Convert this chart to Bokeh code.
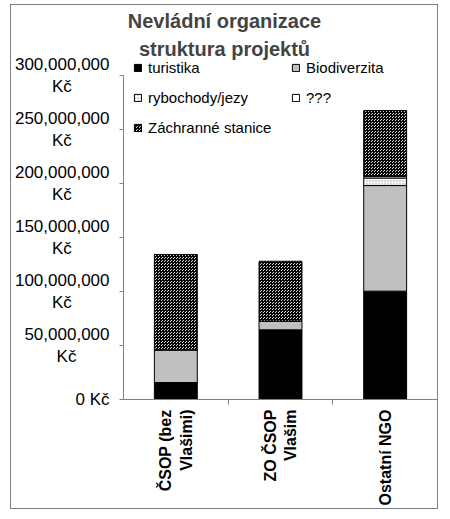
import math
from bokeh.plotting import figure
from bokeh.models import FixedTicker, ColumnDataSource, Label
from bokeh.embed import file_html
from bokeh.resources import INLINE

categories = ["ČSOP (bez\nVlašimi)", "ZO ČSOP\nVlašim", "Ostatní NGO"]
series = ["turistika", "Biodiverzita", "rybochody/jezy", "???", "Záchranné stanice"]
turistika = [15.7e6, 64.5e6, 100.3e6]
biodiverzita = [30.3e6, 8.0e6, 97.8e6]
rybochody = [0.0, 0.0, 7.0e6]
otazniky = [0.0, 0.0, 1.5e6]
zachranne = [88.3e6, 55.5e6, 61.0e6]
y_ticks = [0, 50_000_000, 100_000_000, 150_000_000, 200_000_000, 250_000_000, 300_000_000]
title_text = "Nevládní organizace\nstruktura projektů"

FONT = "Liberation Sans"
FRAME_W, FRAME_H, AXIS_PX = 314, 390, 324

pos = [i + 0.5 for i in range(len(categories))]
bounds = [float(i) for i in range(1, len(categories))]
y_end = y_ticks[-1] * FRAME_H / AXIS_PX

src = ColumnDataSource(dict(x=pos, s0=turistika, s1=biodiverzita, s2=rybochody, s3=otazniky, s4=zachranne))

p = figure(frame_width=FRAME_W, frame_height=FRAME_H, output_backend="svg", toolbar_location=None,
           x_range=(0, len(categories)), y_range=(0, y_end),
           min_border_left=110, min_border_right=0, min_border_top=4, min_border_bottom=10)
p.margin = (4, 0, 0, 10)
p.styles = {"border": "1px solid #808080"}
p.grid.visible = False
p.outline_line_color = None
p.title = None

p.vbar_stack(["s0", "s1", "s2", "s3", "s4"], x="x", width=0.41, source=src,
             fill_color=["black", "#c0c0c0", "white", "white", "#d8d8d8"],
             hatch_pattern=[" ", " ", "dot", " ", "criss_cross"],
             hatch_color=["black", "black", "#909090", "black", "black"],
             hatch_scale=[3, 3, 3, 3, 3],
             hatch_weight=[1, 1, 1, 1, 1],
             line_color="black", line_width=1,
             legend_label=series)


def ylab(v):
    if v == 0:
        return "0 Kč"
    s = f"{v:,}"
    digits = sum(ch.isdigit() for ch in s)
    commas = s.count(",")
    em = digits * 0.556 + commas * 0.278 - 1.167
    pad = "\u00a0" * round(em / 2 / 0.278)
    return s + "\nKč" + pad


yax = p.yaxis[0]
yax.ticker = FixedTicker(ticks=y_ticks, minor_ticks=[])
yax.bounds = (0, y_ticks[-1])
yax.major_label_overrides = {v: ylab(v) for v in y_ticks}
yax.major_label_text_font = FONT
yax.major_label_text_font_size = "17px"
yax.major_label_text_color = "black"
yax.axis_line_color = "#808080"
yax.major_tick_line_color = "#808080"
yax.major_tick_out = 4
yax.major_tick_in = 0
yax.major_label_standoff = 10

xax = p.xaxis[0]
xax.ticker = FixedTicker(ticks=pos, minor_ticks=bounds)
xax.major_label_overrides = {x: c for x, c in zip(pos, categories)}
xax.major_label_orientation = math.pi / 2
xax.major_label_text_font = FONT
xax.major_label_text_font_size = "16px"
xax.major_label_text_font_style = "bold"
xax.major_label_text_color = "black"
xax.axis_line_color = "#808080"
xax.major_tick_out = 0
xax.major_tick_in = 0
xax.minor_tick_line_color = "#808080"
xax.minor_tick_out = 5
xax.minor_tick_in = 0
xax.major_label_standoff = 5

title = Label(x=101, y=390, x_units="screen", y_units="screen", text=title_text,
              text_align="center", text_baseline="top", text_font=FONT,
              text_font_size="20px", text_font_style="bold", text_line_height=1.3)
p.add_layout(title)

lg = p.legend[0]
lg.orientation = "horizontal"
lg.ncols = 2
lg.location = (10, 262)
lg.border_line_color = None
lg.background_fill_alpha = 0
lg.padding = 0
lg.margin = 0
lg.glyph_width = 9
lg.glyph_height = 9
lg.label_height = 20
lg.label_width = 133
lg.spacing = 10
lg.label_standoff = 6
lg.label_text_font = FONT
lg.label_text_font_size = "15px"
lg.label_text_color = "black"

open("out.html", "w").write(file_html(p, INLINE))
